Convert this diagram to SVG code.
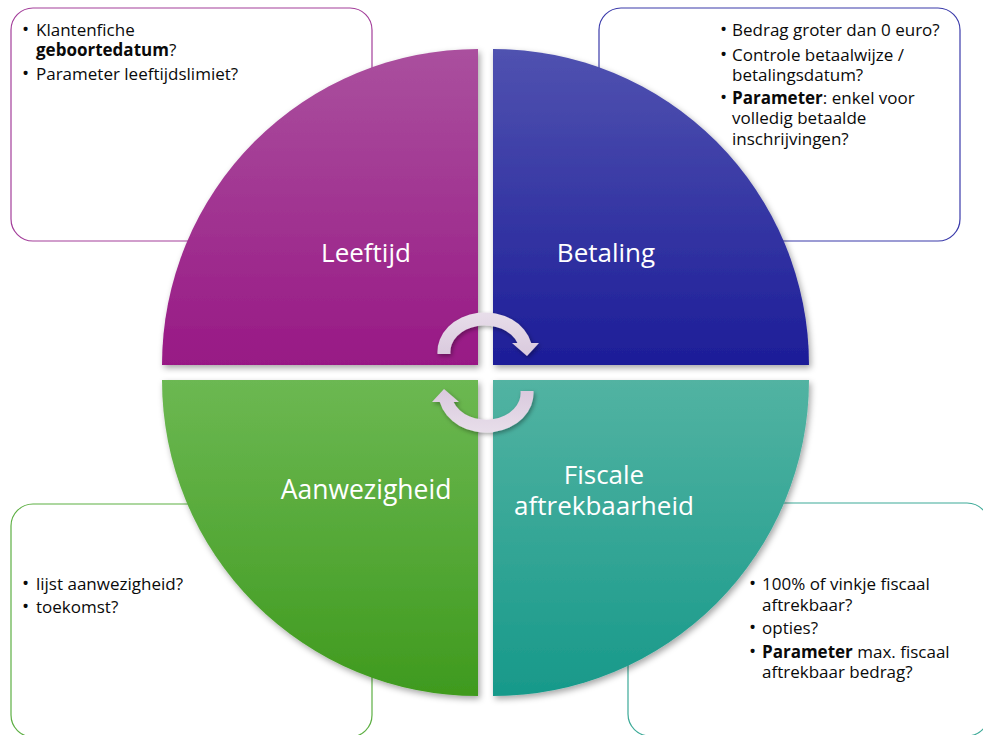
<svg xmlns="http://www.w3.org/2000/svg" width="983" height="735" viewBox="0 0 983 735">
<defs>
<linearGradient id="gTL" x1="0" y1="0" x2="0" y2="1"><stop offset="0" stop-color="#AA509E"/><stop offset="1" stop-color="#981985"/></linearGradient>
<linearGradient id="gTR" x1="0" y1="0" x2="0" y2="1"><stop offset="0" stop-color="#5052B0"/><stop offset="1" stop-color="#1D1D98"/></linearGradient>
<linearGradient id="gBL" x1="0" y1="0" x2="0" y2="1"><stop offset="0" stop-color="#6CB852"/><stop offset="1" stop-color="#3F9A1E"/></linearGradient>
<linearGradient id="gBR" x1="0" y1="0" x2="0" y2="1"><stop offset="0" stop-color="#52B3A2"/><stop offset="1" stop-color="#17998A"/></linearGradient>
<linearGradient id="gAr" x1="0" y1="0" x2="0" y2="1"><stop offset="0" stop-color="#E8DEEA"/><stop offset="1" stop-color="#D9C9DD"/></linearGradient>
<filter id="sh" x="-10%" y="-10%" width="125%" height="125%"><feDropShadow dx="2" dy="3" stdDeviation="3" flood-color="#000" flood-opacity="0.35"/></filter>
<filter id="sh2" x="-30%" y="-30%" width="160%" height="160%"><feDropShadow dx="1.5" dy="2" stdDeviation="2" flood-color="#000" flood-opacity="0.35"/></filter>
<path id="arrow" d="M437.5,354 A47.5,39.5 0 0 1 531.2,343 L539,343 L527,356 L512,343 L517.4,343 A34.5,26.5 0 0 0 450.5,354 Z"/>
</defs>
<style>
.box{fill:#fff;stroke-width:1.2}
.t{font-family:"Open Sans","Liberation Sans",sans-serif;font-size:17px;fill:#0a0a0a}
.bu{font-family:"Open Sans","Liberation Sans",sans-serif;font-size:19px;fill:#0a0a0a}
.b{font-weight:bold}
.lab{font-family:"Open Sans","Liberation Sans",sans-serif;font-size:26px;fill:#fff;text-anchor:middle}
</style>
<rect width="983" height="735" fill="#fff"/>
<g id="box-leeftijd">
<rect class="box" x="11" y="8" width="361" height="233" rx="22" stroke="#A33E9A"/>
<text class="bu" x="22" y="36">•</text><text class="t" x="36" y="36">Klantenfiche</text>
<text class="t" x="36" y="56"><tspan class="b">geboortedatum</tspan>?</text>
<text class="bu" x="22" y="80">•</text><text class="t" x="36" y="80">Parameter leeftijdslimiet?</text>
</g>
<g id="box-betaling">
<rect class="box" x="599" y="8" width="361" height="233" rx="22" stroke="#3A3AAA"/>
<text class="bu" x="720" y="36">•</text><text class="t" x="732" y="36">Bedrag groter dan 0 euro?</text>
<text class="bu" x="720" y="61">•</text><text class="t" x="732" y="61">Controle betaalwijze /</text>
<text class="t" x="732" y="81">betalingsdatum?</text>
<text class="bu" x="720" y="104">•</text><text class="t" x="732" y="104"><tspan class="b">Parameter</tspan>: enkel voor</text>
<text class="t" x="732" y="124">volledig betaalde</text>
<text class="t" x="732" y="145">inschrijvingen?</text>
</g>
<g id="box-aanwezigheid">
<rect class="box" x="11" y="504" width="361" height="233" rx="22" stroke="#5DAF43"/>
<text class="bu" x="22" y="590">•</text><text class="t" x="36" y="590">lijst aanwezigheid?</text>
<text class="bu" x="22" y="613">•</text><text class="t" x="36" y="613">toekomst?</text>
</g>
<g id="box-fiscaal">
<rect class="box" x="628" y="503" width="361" height="233" rx="22" stroke="#3DAA98"/>
<text class="bu" x="749" y="590">•</text><text class="t" x="762" y="590">100% of vinkje fiscaal</text>
<text class="t" x="762" y="611">aftrekbaar?</text>
<text class="bu" x="749" y="634">•</text><text class="t" x="762" y="634">opties?</text>
<text class="bu" x="749" y="658">•</text><text class="t" x="762" y="658"><tspan class="b">Parameter</tspan> max. fiscaal</text>
<text class="t" x="762" y="678">aftrekbaar bedrag?</text>
</g>
<g id="leeftijd">
<path d="M478,365 L162,365 A316,316 0 0 1 478,49 Z" fill="url(#gTL)" filter="url(#sh)"/>
<text class="lab" x="366" y="262">Leeftijd</text>
</g>
<g id="betaling">
<path d="M493,365 L493,49 A316,316 0 0 1 809,365 Z" fill="url(#gTR)" filter="url(#sh)"/>
<text class="lab" x="606" y="262">Betaling</text>
</g>
<g id="aanwezigheid">
<path d="M478,380 L478,696 A316,316 0 0 1 162,380 Z" fill="url(#gBL)" filter="url(#sh)"/>
<text class="lab" x="366" y="499" style="font-size:26.5px">Aanwezigheid</text>
</g>
<g id="fiscale-aftrekbaarheid">
<path d="M493,380 L809,380 A316,316 0 0 1 493,696 Z" fill="url(#gBR)" filter="url(#sh)"/>
<text class="lab" x="604" y="484">Fiscale</text>
<text class="lab" x="604" y="515">aftrekbaarheid</text>
</g>
<g id="connectors">
<g filter="url(#sh2)"><use href="#arrow" fill="url(#gAr)"/></g>
<g filter="url(#sh2)"><use href="#arrow" fill="url(#gAr)" transform="rotate(180 485.5 372.5)"/></g>
</g>
</svg>
